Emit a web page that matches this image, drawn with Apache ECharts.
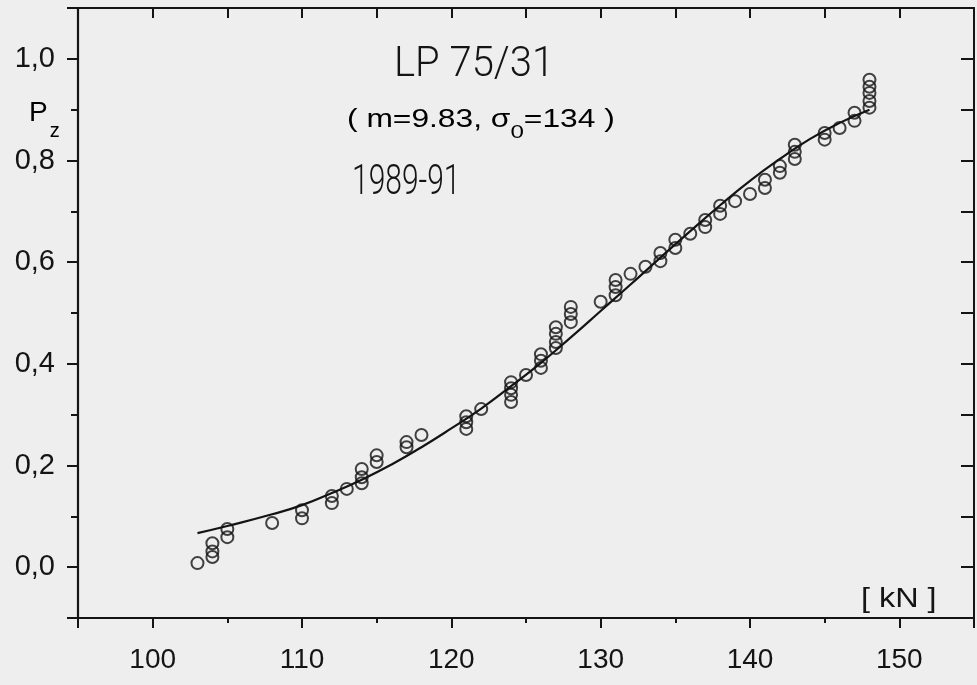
<!DOCTYPE html>
<html lang="de">
<head>
    <meta charset="UTF-8">
    <title>LP 75/31</title>
    <script src="https://cdn.jsdelivr.net/npm/echarts@6/dist/echarts.min.js"></script>
    <style>
        html, body { margin: 0; padding: 0; background: #eeeeee; }
        #chart { width: 977px; height: 685px; }
    </style>
</head>
<body>
<div id="chart"></div>
<script>
    // Messpunkte (Last in kN, Bruchwahrscheinlichkeit Pz)
    var loadKN = [
        103,
        104, 104, 104,
        105, 105,
        108,
        110, 110,
        112, 112,
        113,
        114, 114, 114,
        115, 115,
        117, 117,
        118,
        121, 121, 121,
        122,
        124, 124, 124, 124,
        125,
        126, 126, 126,
        127, 127, 127, 127,
        128, 128, 128,
        130,
        131, 131, 131,
        132,
        133,
        134, 134,
        135, 135,
        136,
        137, 137,
        138, 138,
        139,
        140,
        141, 141,
        142, 142,
        143, 143, 143,
        145, 145,
        146,
        147, 147,
        148, 148, 148, 148, 148
    ];
    var pz = [
        0.008,
        0.020, 0.031, 0.047,
        0.059, 0.075,
        0.087,
        0.096, 0.112,
        0.126, 0.140,
        0.154,
        0.165, 0.177, 0.193,
        0.207, 0.220,
        0.236, 0.246,
        0.260,
        0.272, 0.285, 0.297,
        0.311,
        0.325, 0.339, 0.352, 0.364,
        0.378,
        0.392, 0.406, 0.419,
        0.431, 0.443, 0.459, 0.472,
        0.482, 0.498, 0.512,
        0.522,
        0.535, 0.551, 0.565,
        0.577,
        0.591,
        0.602, 0.618,
        0.628, 0.644,
        0.656,
        0.669, 0.683,
        0.695, 0.711,
        0.720,
        0.734,
        0.746, 0.762,
        0.776, 0.789,
        0.803, 0.817, 0.831,
        0.841, 0.854,
        0.864,
        0.878, 0.894,
        0.904, 0.917, 0.933, 0.945, 0.959
    ];

    // Ausgleichskurve
    var curveX = [103, 105, 108, 110, 112, 114, 116, 118, 120, 122, 124, 126, 128, 130, 132, 134, 136, 138, 140, 142, 144, 146, 148];
    var curveY = [0.067, 0.081, 0.104, 0.122, 0.146, 0.172, 0.202, 0.236, 0.273, 0.312, 0.356, 0.402, 0.452, 0.504, 0.556, 0.609, 0.661, 0.712, 0.760, 0.803, 0.842, 0.874, 0.900];

    var ink = '#141414';
    var labelFont = 'Liberation Sans, Arial, sans-serif';

    var points = [];
    for (var i = 0; i < loadKN.length; i++) {
        points.push([loadKN[i], pz[i]]);
    }
    var curve = [];
    for (var j = 0; j < curveX.length; j++) {
        curve.push([curveX[j], curveY[j]]);
    }

    var chart = echarts.init(document.getElementById('chart'), null, {renderer: 'canvas'});

    var option = {
        backgroundColor: '#eeeeee',
        animation: false,
        grid: {left: 78, right: -7, top: 8, bottom: 67},
        xAxis: [
            {
                type: 'value', position: 'bottom', min: 95, max: 155,
                minInterval: 10, maxInterval: 10,
                axisLine: {show: true, onZero: false, lineStyle: {color: ink, width: 2.2}},
                axisTick: {show: true, inside: false, length: 10, lineStyle: {color: ink, width: 2}},
                splitLine: {show: false},
                axisLabel: {
                    fontSize: 28, fontFamily: labelFont, color: ink, margin: 28,
                    formatter: function (v) {
                        return (v % 10 === 0 && v >= 100 && v <= 150) ? String(v) : '';
                    }
                }
            },
            {
                type: 'value', position: 'bottom', min: 95, max: 155, interval: 5,
                axisLine: {show: false, onZero: false},
                axisTick: {show: true, inside: false, length: 5, lineStyle: {color: ink, width: 2}},
                splitLine: {show: false},
                axisLabel: {show: false}
            },
            {
                type: 'value', position: 'top', min: 95, max: 155, interval: 5,
                axisLine: {show: true, onZero: false, lineStyle: {color: ink, width: 2.2}},
                axisTick: {show: true, inside: true, length: 10, lineStyle: {color: ink, width: 2}},
                splitLine: {show: false},
                axisLabel: {show: false}
            }
        ],
        yAxis: [
            {
                type: 'value', position: 'left', min: -0.1, max: 1.1,
                minInterval: 0.2, maxInterval: 0.2,
                axisLine: {show: true, onZero: false, lineStyle: {color: ink, width: 2.2}},
                axisTick: {show: true, inside: false, length: 11, lineStyle: {color: ink, width: 2}},
                splitLine: {show: false},
                axisLabel: {
                    fontSize: 29, fontFamily: labelFont, color: ink, margin: 23,
                    formatter: function (v) {
                        var k = Math.round(v * 10);
                        if (k < 0 || k > 10 || k % 2 !== 0) return '';
                        return (k / 10).toFixed(1).replace('.', ',');
                    }
                }
            },
            {
                type: 'value', position: 'left', min: -0.1, max: 1.1, interval: 0.1,
                axisLine: {show: false, onZero: false},
                axisTick: {show: true, inside: false, length: 7, lineStyle: {color: ink, width: 2}},
                splitLine: {show: false},
                axisLabel: {show: false}
            },
            {
                type: 'value', position: 'right', min: -0.1, max: 1.1, interval: 0.1,
                axisLine: {show: true, onZero: false, lineStyle: {color: ink, width: 2}},
                axisTick: {show: true, inside: true, length: 13, lineStyle: {color: ink, width: 2}},
                splitLine: {show: false},
                axisLabel: {show: false}
            }
        ],
        series: [
            {
                type: 'line',
                data: curve,
                smooth: true,
                symbol: 'none',
                lineStyle: {color: ink, width: 2.2},
                z: 3
            },
            {
                type: 'scatter',
                data: points,
                symbol: 'circle',
                symbolSize: 12,
                itemStyle: {color: 'rgba(0,0,0,0)', borderColor: ink, borderWidth: 2},
                z: 4
            }
        ],
        graphic: [
            {
                type: 'text', x: 394, y: 44, scaleY: 1.08,
                style: {text: 'LP 75/31', font: '300 40px Roboto, sans-serif', fill: ink}
            },
            {
                type: 'text', x: 347, y: 108, scaleX: 1.27,
                style: {
                    text: '{a|( m=9.83, σ}{s|0}{a|=134 )}',
                    rich: {
                        a: {fontSize: 25, fontFamily: labelFont, color: ink, lineHeight: 30, verticalAlign: 'top'},
                        s: {fontSize: 19, fontFamily: labelFont, color: ink, lineHeight: 20, padding: [15, 0, 0, 0], verticalAlign: 'top'}
                    }
                }
            },
            {
                type: 'text', x: 352, y: 162, scaleY: 1.4,
                style: {text: '1989-91', font: '300 30px Roboto, sans-serif', fill: ink}
            },
            {
                type: 'text', x: 29, y: 99,
                style: {
                    text: '{p|P}{z|z}',
                    rich: {
                        p: {fontSize: 28, fontFamily: labelFont, color: ink, lineHeight: 30, verticalAlign: 'top'},
                        z: {fontSize: 20, fontFamily: labelFont, color: ink, lineHeight: 20, padding: [22, 0, 0, 2], verticalAlign: 'top'}
                    }
                }
            },
            {
                type: 'text', x: 861, y: 586, scaleX: 1.2,
                style: {text: '[ kN ]', font: '27px Liberation Sans, Arial, sans-serif', fill: ink}
            }
        ]
    };
    chart.setOption(option);
</script>
</body>
</html>
